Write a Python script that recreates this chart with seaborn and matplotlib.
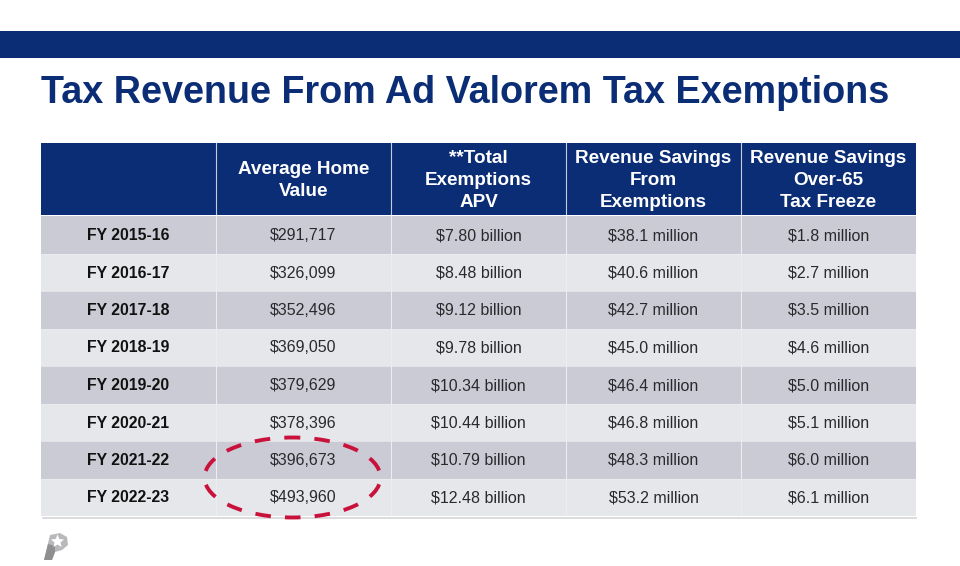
import numpy as np
import matplotlib.pyplot as plt
import seaborn as sns
from matplotlib.colors import ListedColormap
from matplotlib.patches import Ellipse, Polygon, Rectangle

NAVY = "#0B2D75"
RED = "#C8123C"

title = "Tax Revenue From Ad Valorem Tax Exemptions"
headers = ["", "Average Home\nValue", "**Total\nExemptions\nAPV",
           "Revenue Savings\nFrom\nExemptions", "Revenue Savings\nOver-65\nTax Freeze"]
years = ["FY 2015-16", "FY 2016-17", "FY 2017-18", "FY 2018-19",
         "FY 2019-20", "FY 2020-21", "FY 2021-22", "FY 2022-23"]
home_value = ["$291,717", "$326,099", "$352,496", "$369,050",
              "$379,629", "$378,396", "$396,673", "$493,960"]
total_exemptions = ["$7.80 billion", "$8.48 billion", "$9.12 billion", "$9.78 billion",
                    "$10.34 billion", "$10.44 billion", "$10.79 billion", "$12.48 billion"]
savings_exemptions = ["$38.1 million", "$40.6 million", "$42.7 million", "$45.0 million",
                      "$46.4 million", "$46.8 million", "$48.3 million", "$53.2 million"]
savings_freeze = ["$1.8 million", "$2.7 million", "$3.5 million", "$4.6 million",
                  "$5.0 million", "$5.1 million", "$6.0 million", "$6.1 million"]

W, H = 960, 566
plt.rcParams['font.family'] = ['Liberation Sans', 'DejaVu Sans']
fig = plt.figure(figsize=(W / 100, H / 100), dpi=100, facecolor="white")


def px_axes(x0, y0, x1, y1):
    # axes placed with pixel box, y measured from the top
    return fig.add_axes([x0 / W, 1 - y1 / H, (x1 - x0) / W, (y1 - y0) / H])


# background layer in pixel coordinates
bg = px_axes(0, 0, W, H)
bg.set_xlim(0, W)
bg.set_ylim(H, 0)
bg.axis("off")
bg.add_patch(Rectangle((0, 31), W, 26.5, color=NAVY, lw=0))
bg.text(41, 103, title, color=NAVY, fontsize=27.15, fontweight="bold", va="baseline", ha="left")
bg.plot([43, 916], [518, 518], color="#D6D6D8", lw=1.2)

# header row
head_ax = px_axes(41, 143, 916, 215)
sns.heatmap(np.zeros((1, 5)), ax=head_ax, cbar=False, cmap=ListedColormap([NAVY]),
            annot=np.array([headers]), fmt="", linewidths=0,
            annot_kws={"color": "white", "fontsize": 13.6, "fontweight": "bold", "linespacing": 1.37},
            xticklabels=False, yticklabels=False)
for txt in head_ax.texts:
    txt.set_y(txt.get_position()[1] + 0.02)
for x in range(1, 5):
    head_ax.axvline(x, color="#C9CCD8", lw=0.8)

# body rows, banding comes from the row index
body = np.column_stack([years, home_value, total_exemptions, savings_exemptions, savings_freeze])
bands = np.tile(np.arange(len(years))[:, None] % 2, (1, 5))
body_ax = px_axes(41, 216, 916, 516)
sns.heatmap(bands, ax=body_ax, cbar=False, cmap=ListedColormap(["#CBCBD5", "#E6E7EB"]),
            annot=body, fmt="", linewidths=0,
            annot_kws={"color": "#2A2A2E", "fontsize": 11.5},
            xticklabels=False, yticklabels=False)
for x in range(1, 5):
    body_ax.axvline(x, color="#EDEDF1", lw=0.8)
for y in range(1, len(years)):
    body_ax.axhline(y, color="#EDEDF1", lw=0.5)
for txt in body_ax.texts:
    txt.set_y(txt.get_position()[1] + 0.02)
for txt in body_ax.texts[::5]:
    txt.set_fontweight("bold")
    txt.set_fontsize(11.4)
    txt.set_color("#111111")

# overlay layer: dashed ring and logo
top = px_axes(0, 0, W, H)
top.set_xlim(0, W)
top.set_ylim(H, 0)
top.axis("off")
top.patch.set_alpha(0)
top.add_patch(Ellipse((292.5, 477.5), 176, 80, fill=False, edgecolor=RED, lw=2.8,
                      linestyle=(2.0, (4.0, 3.64))))

top.add_patch(Polygon([(44, 560), (50, 535), (60, 533), (67, 537), (68, 545), (62, 550),
                       (55, 552), (52, 560)], closed=True, color="#B9B9BB", lw=0))
top.add_patch(Polygon([(44, 560), (48, 544), (55, 546), (55, 552), (52, 560)],
                      closed=True, color="#8F8F91", lw=0))
top.add_patch(Polygon([(57.5, 534.5), (59.3, 539), (64, 539.5), (60.5, 542.5), (61.5, 547),
                       (57.5, 544.5), (53.5, 547), (54.5, 542.5), (51, 539.5), (55.7, 539)],
                      closed=True, color="white", lw=0))

fig.savefig("out.png", dpi=100)
